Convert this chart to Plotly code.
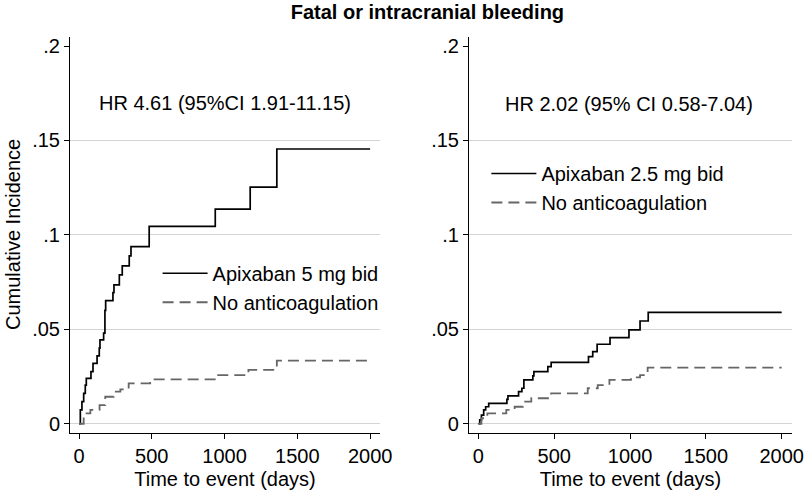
import plotly.graph_objects as go

# Kaplan-Meier style cumulative incidence (days, incidence)
apix5_days = [0, 9, 20, 32, 43, 50, 82, 96, 124, 139, 144, 169, 178, 183, 187, 233, 240, 277, 297, 345, 357, 482, 936, 1176, 1359, 2000]
apix5_inc = [0, 0.0073, 0.0117, 0.0161, 0.0205, 0.0240, 0.0276, 0.0320, 0.0359, 0.0400, 0.0444, 0.0480, 0.0600, 0.0652, 0.0652, 0.0694, 0.0735, 0.0788, 0.0836, 0.0889, 0.0938, 0.1045, 0.1137, 0.1253, 0.1455, 0.1455]

noac_left_days = [0, 32, 78, 141, 180, 238, 284, 341, 489, 947, 1164, 1359, 1990]
noac_left_inc = [0, 0.0055, 0.0073, 0.0099, 0.0143, 0.0170, 0.0182, 0.0214, 0.0235, 0.0258, 0.0285, 0.0334, 0.0334]

apix25_days = [0, 9, 20, 35, 48, 68, 188, 195, 265, 287, 300, 359, 366, 458, 480, 726, 754, 783, 868, 993, 1066, 1120, 2000]
apix25_inc = [0, 0.0020, 0.0046, 0.0073, 0.0090, 0.0108, 0.0129, 0.0148, 0.0170, 0.0188, 0.0232, 0.0253, 0.0276, 0.0302, 0.0325, 0.0355, 0.0382, 0.0421, 0.0456, 0.0497, 0.0544, 0.0590, 0.0590]

noac_right_days = [0, 20, 46, 59, 184, 239, 293, 349, 480, 721, 787, 864, 1006, 1066, 1116, 2000]
noac_right_inc = [0, 0.0029, 0.0037, 0.0055, 0.0073, 0.0090, 0.0117, 0.0135, 0.0161, 0.0188, 0.0205, 0.0232, 0.0246, 0.0258, 0.0297, 0.0297]

y_ticks = [0, 0.05, 0.1, 0.15, 0.2]
y_tick_labels = ["0", ".05", ".1", ".15", ".2"]
grid_vals = [0, 0.05, 0.1, 0.15]
x_ticks = [0, 500, 1000, 1500, 2000]

FONT = "Liberation Sans, Arial, sans-serif"
FS = 20
SOLID = dict(color="black", width=1.7, shape="hv")
DASHED = dict(color="#666666", width=1.8, shape="hv", dash="11px,6px")

fig = go.Figure()
fig.add_trace(go.Scatter(x=apix5_days, y=apix5_inc, mode="lines", line=SOLID,
                         name="Apixaban 5 mg bid", xaxis="x", yaxis="y", legend="legend"))
fig.add_trace(go.Scatter(x=noac_left_days, y=noac_left_inc, mode="lines", line=DASHED,
                         name="No anticoagulation", xaxis="x", yaxis="y", legend="legend"))
fig.add_trace(go.Scatter(x=apix25_days, y=apix25_inc, mode="lines", line=SOLID,
                         name="Apixaban 2.5 mg bid", xaxis="x2", yaxis="y2", legend="legend2"))
fig.add_trace(go.Scatter(x=noac_right_days, y=noac_right_inc, mode="lines", line=DASHED,
                         name="No anticoagulation", xaxis="x2", yaxis="y2", legend="legend2"))

xaxis_style = dict(
    range=[-62, 2068], tickvals=x_ticks, showgrid=False, zeroline=False, automargin=False,
    showline=True, linecolor="black", linewidth=1, ticks="outside", ticklen=5,
    tickcolor="black", tickfont=dict(size=FS, color="black"),
    title=dict(text="Time to event (days)", font=dict(size=FS, color="black"), standoff=5),
)
yaxis_style = dict(
    range=[-0.0049, 0.2048], tickvals=y_ticks, ticktext=y_tick_labels, showgrid=False,
    zeroline=False, automargin=False, showline=True, linecolor="black", linewidth=1,
    ticks="outside", ticklen=5, tickcolor="black", tickfont=dict(size=FS, color="black"),
    minor=dict(tickvals=grid_vals, showgrid=True, gridcolor="#d4d4d4", gridwidth=1, ticks=""),
)

legend_style = dict(font=dict(size=FS, color="black"), bgcolor="rgba(0,0,0,0)",
                    itemwidth=45, yanchor="top", xanchor="left", tracegroupgap=0)

fig.update_layout(
    width=805, height=497,
    margin=dict(l=70, r=13, t=37, b=64),
    paper_bgcolor="white", plot_bgcolor="white",
    font=dict(family=FONT, color="black"),
    title=dict(text="<b>Fatal or intracranial bleeding</b>", font=dict(size=FS, color="black"),
               x=0.495, xref="paper", xanchor="center", y=1 - 12 / 497, yref="container",
               yanchor="middle"),
    xaxis=dict(domain=[0, 0.4294], anchor="y", **xaxis_style),
    yaxis=dict(domain=[0, 1], anchor="x", **yaxis_style),
    xaxis2=dict(domain=[0.5526, 1], anchor="y2", **xaxis_style),
    yaxis2=dict(domain=[0, 1], anchor="x2", **yaxis_style),
    legend=dict(x=0.1213, y=0.4526, **legend_style),
    legend2=dict(x=0.5767, y=0.7046, **legend_style),
    annotations=[
        dict(text="HR 4.61 (95%CI 1.91-11.15)", x=1004, y=0.170, xref="x", yref="y",
             showarrow=False, font=dict(size=FS, color="black")),
        dict(text="HR 2.02 (95% CI 0.58-7.04)", x=995, y=0.1694, xref="x2", yref="y2",
             showarrow=False, font=dict(size=FS, color="black")),
        dict(text="Cumulative Incidence", x=(13 - 70) / 722, y=0.5, xref="paper", yref="paper",
             xanchor="center", yanchor="middle", textangle=-90, showarrow=False,
             font=dict(size=FS, color="black")),
    ],
)

# drop the browser's default body margin so the figure sits at the page corner
fig.write_html("out.html", config={"displayModeBar": False},
               post_script="document.body.style.margin='0';")
